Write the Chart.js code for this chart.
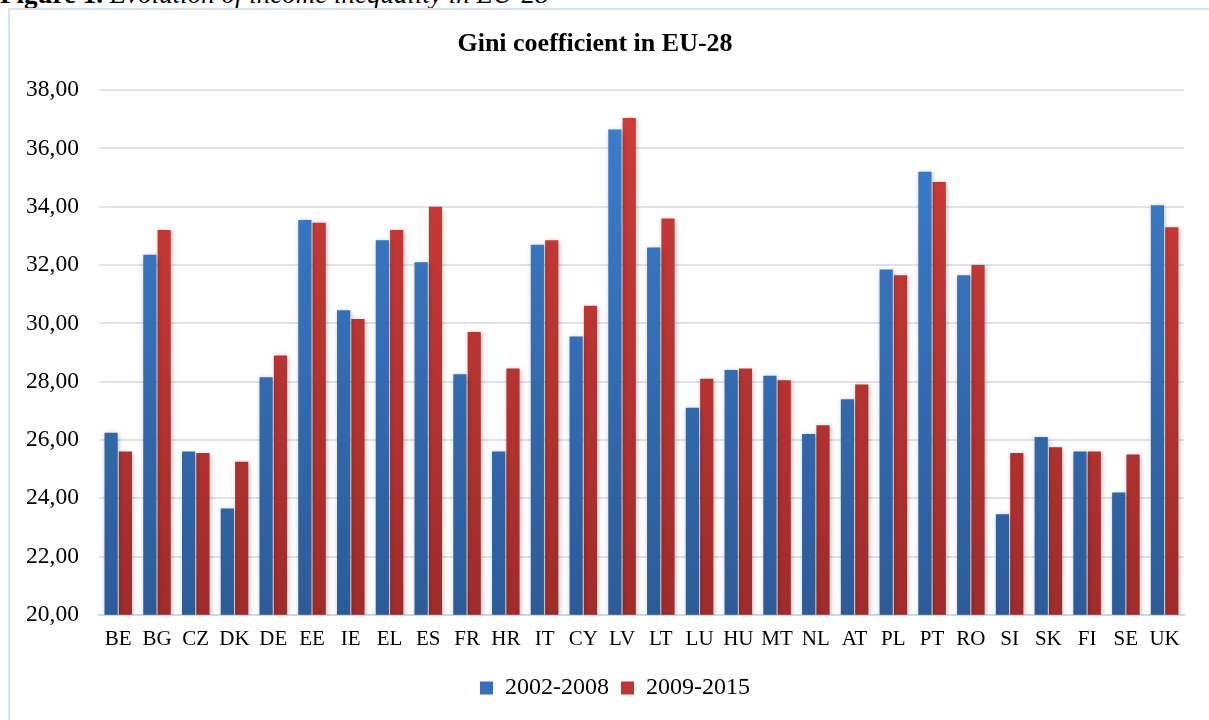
<!DOCTYPE html>
<html>
<head>
<meta charset="utf-8">
<script src="https://cdn.jsdelivr.net/npm/chart.js@4/dist/chart.umd.min.js"></script>
<style>
  html, body { margin: 0; padding: 0; background: #fff; overflow: hidden; }
  #caption {
    position: absolute; left: 0; top: -21px;
    font: 27px "Liberation Serif", serif; white-space: nowrap;
  }
  #frame {
    position: absolute; left: 8px; top: 8px; width: 1230px; height: 740px;
    border: 2px solid #d6e3f3; box-sizing: border-box;
  }
  #wrap { position: absolute; left: 0; top: 0; width: 1209px; height: 720px; }
</style>
</head>
<body>
<div id="caption"><b>Figure 1.</b> <i>Evolution of income inequality in EU-28</i></div>
<div id="frame"></div>
<div id="wrap"><canvas id="myChart"></canvas></div>
<script>
const countries = ['BE', 'BG', 'CZ', 'DK', 'DE', 'EE', 'IE', 'EL', 'ES', 'FR', 'HR', 'IT', 'CY', 'LV',
	'LT', 'LU', 'HU', 'MT', 'NL', 'AT', 'PL', 'PT', 'RO', 'SI', 'SK', 'FI', 'SE', 'UK'];

const gini2002_2008 = [26.25, 32.35, 25.6, 23.65, 28.15, 33.55, 30.45, 32.85, 32.1, 28.25, 25.6, 32.7, 29.55, 36.65,
	32.6, 27.1, 28.4, 28.2, 26.2, 27.4, 31.85, 35.2, 31.65, 23.45, 26.1, 25.6, 24.2, 34.05];

const gini2009_2015 = [25.6, 33.2, 25.55, 25.25, 28.9, 33.45, 30.15, 33.2, 34.0, 29.7, 28.45, 32.85, 30.6, 37.05,
	33.6, 28.1, 28.45, 28.05, 26.5, 27.9, 31.65, 34.85, 32.0, 25.55, 25.75, 25.6, 25.5, 33.3];

const seriesNames = ['2002-2008', '2009-2015'];
const yMin = 20;
const yMax = 38;

const serif = '"Liberation Serif", "Times New Roman", serif';

// vertical gradient from the light top to the darker bottom of each bar
const barGradient = (top, bottom, flat) => (ctx) => {
	const area = ctx.chart.chartArea;
	if (!area) return flat;
	const g = ctx.chart.ctx.createLinearGradient(0, area.top, 0, area.bottom);
	g.addColorStop(0, top);
	g.addColorStop(1, bottom);
	return g;
};

// soft drop shadow like the office chart
const barShadow = {
	id: 'barShadow',
	beforeDatasetsDraw(chart) {
		const c = chart.ctx;
		c.save();
		c.shadowColor = 'rgba(0,0,0,0.28)';
		c.shadowBlur = 5;
		c.shadowOffsetX = 1;
		c.shadowOffsetY = 1;
	},
	afterDatasetsDraw(chart) {
		chart.ctx.restore();
	}
};

// the legend sits a bit right of the canvas centre in the original
const legendNudge = {
	id: 'legendNudge',
	afterLayout(chart) {
		chart.legend.left += 20;
		chart.legend.right += 20;
	}
};

const myChart = new Chart(document.getElementById('myChart'), {
	type: 'bar',
	data: {
		labels: countries,
		datasets: [
			{
				label: seriesNames[0],
				data: gini2002_2008,
				backgroundColor: barGradient('#3b7fcf', '#2c5b98', '#3570bb'),
				borderWidth: 0,
			},
			{
				label: seriesNames[1],
				data: gini2009_2015,
				backgroundColor: barGradient('#d03c38', '#9f2c2b', '#c03634'),
				borderWidth: 0,
			},
		],
	},
	plugins: [barShadow, legendNudge],
	options: {
		responsive: true,
		maintainAspectRatio: false,
		animation: false,
		layout: {
			padding: { left: 6, right: 25, top: 20, bottom: 10 },
		},
		datasets: {
			bar: {
				categoryPercentage: 0.74,
				barPercentage: 0.92,
			},
		},
		plugins: {
			title: {
				display: true,
				text: 'Gini coefficient in EU-28',
				color: '#000',
				font: { family: serif, size: 26, weight: 'bold' },
				padding: { top: 9, bottom: 30 },
			},
			legend: {
				position: 'bottom',
				labels: {
					color: '#000',
					font: { family: serif, size: 24 },
					boxWidth: 13,
					boxHeight: 13,
					padding: 12,
					generateLabels: (chart) => [
						{ text: seriesNames[0], fillStyle: '#3470bb', strokeStyle: '#3470bb', lineWidth: 0, datasetIndex: 0 },
						{ text: seriesNames[1], fillStyle: '#bf3533', strokeStyle: '#bf3533', lineWidth: 0, datasetIndex: 1 },
					],
				},
			},
			tooltip: { enabled: false },
		},
		scales: {
			x: {
				grid: { display: false, drawTicks: false },
				border: { display: true, color: '#c9d9ef', width: 2 },
				ticks: {
					color: '#000',
					font: { family: serif, size: 21 },
					padding: 12,
					maxRotation: 0,
					autoSkip: false,
				},
			},
			y: {
				min: yMin,
				max: yMax,
				grid: { color: '#dde2ec', lineWidth: 2, drawTicks: false },
				border: { display: false },
				ticks: {
					stepSize: 2,
					color: '#000',
					font: { family: serif, size: 23.5 },
					padding: 20,
					callback: (v) => v.toFixed(2).replace('.', ','),
				},
			},
		},
	},
});
</script>
</body>
</html>
